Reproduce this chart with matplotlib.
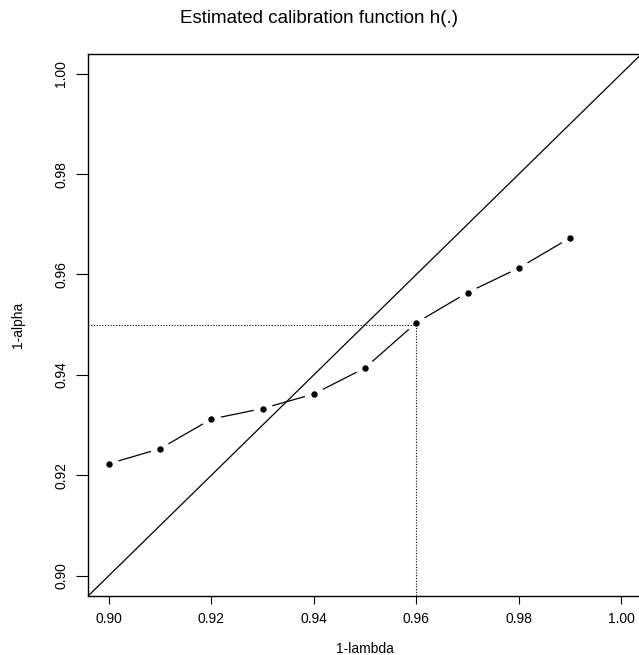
import numpy as np
import matplotlib.pyplot as plt

# calibration points: 1-lambda vs estimated 1-alpha
one_minus_lambda = [0.90, 0.91, 0.92, 0.93, 0.94, 0.95, 0.96, 0.97, 0.98, 0.99]
one_minus_alpha = [0.9223, 0.9253, 0.9312, 0.9333, 0.9362, 0.9414, 0.9504, 0.9564, 0.9613, 0.9673]
target_alpha = 0.95
chosen_lambda = 0.96
xticks = [0.90, 0.92, 0.94, 0.96, 0.98, 1.00]
yticks = [0.90, 0.92, 0.94, 0.96, 0.98, 1.00]

plt.rcParams['font.family'] = ['Liberation Sans', 'DejaVu Sans']

fig = plt.figure(figsize=(6.39, 6.55), dpi=100)
ax = fig.add_axes([0.1382, 0.0904, 0.8663, 0.8278])

# R-style limits (4% padding)
ax.set_xlim(0.896, 1.004)
ax.set_ylim(0.896, 1.004)

# type="b": lines with gaps around the points (white halo trick)
ax.plot(one_minus_lambda, one_minus_alpha, color='black', lw=0.9, zorder=1)
ax.plot(one_minus_lambda, one_minus_alpha, 'o', ms=13, color='white', mec='white', zorder=2)

# identity line
ax.plot([0.8, 1.1], [0.8, 1.1], color='black', lw=0.9, zorder=3)

# dotted guide lines
ax.plot([0.8, chosen_lambda, chosen_lambda], [target_alpha, target_alpha, 0.8],
        color='black', lw=0.8, linestyle=(0, (1, 1.5)), zorder=3)

ax.plot(one_minus_lambda, one_minus_alpha, 'o', ms=3.6, color='black', zorder=4)

ax.set_xticks(xticks)
ax.set_xticklabels(['%.2f' % v for v in xticks])
ax.set_yticks(yticks)
ax.set_yticklabels(['%.2f' % v for v in yticks], rotation=90, va='center')
ax.tick_params(axis='x', length=5.5, width=0.8, pad=6, labelsize=10)
ax.tick_params(axis='y', length=8.4, width=0.8, pad=6, labelsize=10)

for s in ax.spines.values():
    s.set_linewidth(1.0)

ax.set_xlabel('1-lambda', fontsize=10, labelpad=12)
ax.set_ylabel('1-alpha', fontsize=10, labelpad=21)
fig.suptitle('Estimated calibration function h(.)', x=0.5, y=0.985, fontsize=13.5)

fig.savefig('out.png', dpi=100)
